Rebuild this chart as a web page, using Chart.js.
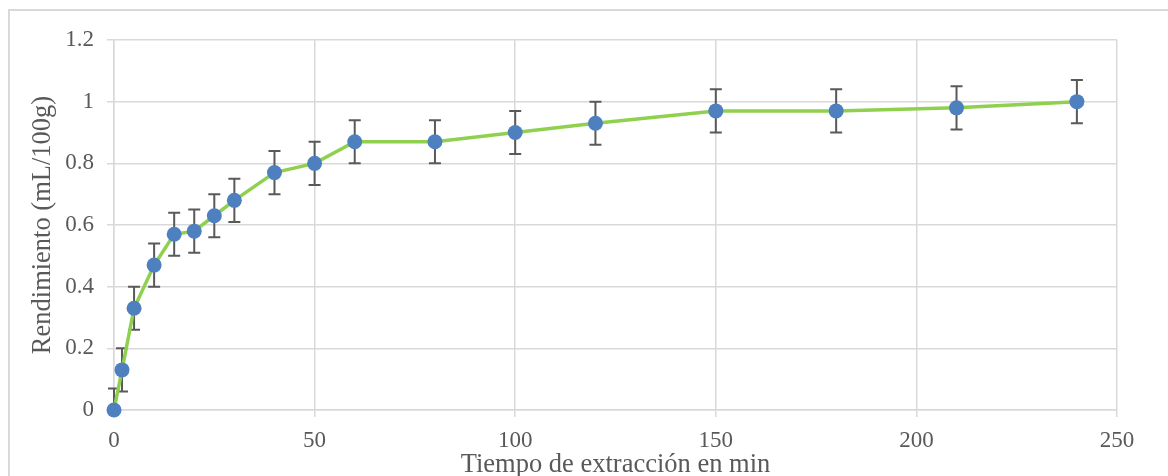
<!DOCTYPE html>
<html>
<head>
<meta charset="utf-8">
<script src="https://cdn.jsdelivr.net/npm/chart.js@4.4.1/dist/chart.umd.min.js"></script>
<style>
  body { margin: 0; background: #fff; overflow: hidden; }
  #frame { position: absolute; left: 8px; top: 9px; width: 1200px; height: 500px; border: 2px solid #d9d9d9; }
  #wrap { position: absolute; left: 0; top: 0; width: 1168px; height: 476px; }
</style>
</head>
<body>
<div id="frame"></div>
<div id="wrap"><canvas id="chart" width="1168" height="476"></canvas></div>
<script>
// tiempo (min) y rendimiento (mL/100g)
const tiempos = [0, 2, 5, 10, 15, 20, 25, 30, 40, 50, 60, 80, 100, 120, 150, 180, 210, 240];
const rendimiento = [0, 0.13, 0.33, 0.47, 0.57, 0.58, 0.63, 0.68, 0.77, 0.8, 0.87, 0.87, 0.9, 0.93, 0.97, 0.97, 0.98, 1.0];
const errores = [0.07, 0.07, 0.07, 0.07, 0.07, 0.07, 0.07, 0.07, 0.07, 0.07, 0.07, 0.07, 0.07, 0.07, 0.07, 0.07, 0.07, 0.07];

const gris = '#595959';
const rejilla = '#d9d9d9';
const fuente = "'Liberation Serif', 'Times New Roman', serif";

// barras de error dibujadas con las escalas del gráfico
const errorBars = {
  id: 'errorBars',
  beforeDatasetsDraw(chart) {
    const ctx = chart.ctx;
    const x = chart.scales.x, y = chart.scales.y;
    const area = chart.chartArea;
    ctx.save();
    ctx.beginPath();
    ctx.rect(area.left - 10, area.top - 40, area.width + 20, area.height + 40);
    ctx.clip();
    ctx.strokeStyle = gris;
    ctx.lineWidth = 2;
    for (let i = 0; i < tiempos.length; i++) {
      const px = x.getPixelForValue(tiempos[i]);
      const top = y.getPixelForValue(rendimiento[i] + errores[i]);
      const bot = y.getPixelForValue(rendimiento[i] - errores[i]);
      ctx.beginPath();
      ctx.moveTo(px, top); ctx.lineTo(px, bot);
      ctx.moveTo(px - 6, top); ctx.lineTo(px + 6, top);
      ctx.moveTo(px - 6, bot); ctx.lineTo(px + 6, bot);
      ctx.stroke();
    }
    ctx.restore();
  }
};

new Chart(document.getElementById('chart'), {
  type: 'line',
  data: {
    datasets: [{
      data: tiempos.map((t, i) => ({ x: t, y: rendimiento[i] })),
      borderColor: '#8fd14f',
      borderWidth: 3.5,
      pointRadius: 7.5,
      pointBackgroundColor: '#4e80c0',
      pointBorderColor: '#4e80c0',
      pointBorderWidth: 0,
      tension: 0,
      clip: false
    }]
  },
  options: {
    responsive: false,
    animation: false,
    devicePixelRatio: 1,
    layout: { padding: { left: 0, right: 51, top: 40, bottom: 0 } },
    plugins: { legend: { display: false }, tooltip: { enabled: false } },
    scales: {
      x: {
        type: 'linear',
        min: 0, max: 250,
        afterFit(s) { s.height = 66; },
        grid: { color: rejilla, lineWidth: 1.5, tickLength: 7, tickColor: rejilla },
        border: { color: rejilla, width: 1.5 },
        ticks: { stepSize: 50, color: gris, padding: 10, font: { family: fuente, size: 23 } },
        title: { display: true, text: 'Tiempo de extracción en min', color: gris, padding: { top: 0, bottom: -5 }, font: { family: fuente, size: 26.5 } }
      },
      y: {
        min: 0, max: 1.2,
        afterFit(s) { s.width = 114; },
        grid: { color: rejilla, lineWidth: 1.5, tickLength: 7, tickColor: rejilla },
        border: { color: rejilla, width: 1.5 },
        ticks: { stepSize: 0.2, color: gris, padding: 13, font: { family: fuente, size: 23 },
          callback: v => Math.round(v * 10) / 10 },
        title: { display: true, text: 'Rendimiento (mL/100g)', color: gris, padding: { top: 27, bottom: 0 }, font: { family: fuente, size: 26.5 } }
      }
    }
  },
  plugins: [errorBars]
});
</script>
</body>
</html>
